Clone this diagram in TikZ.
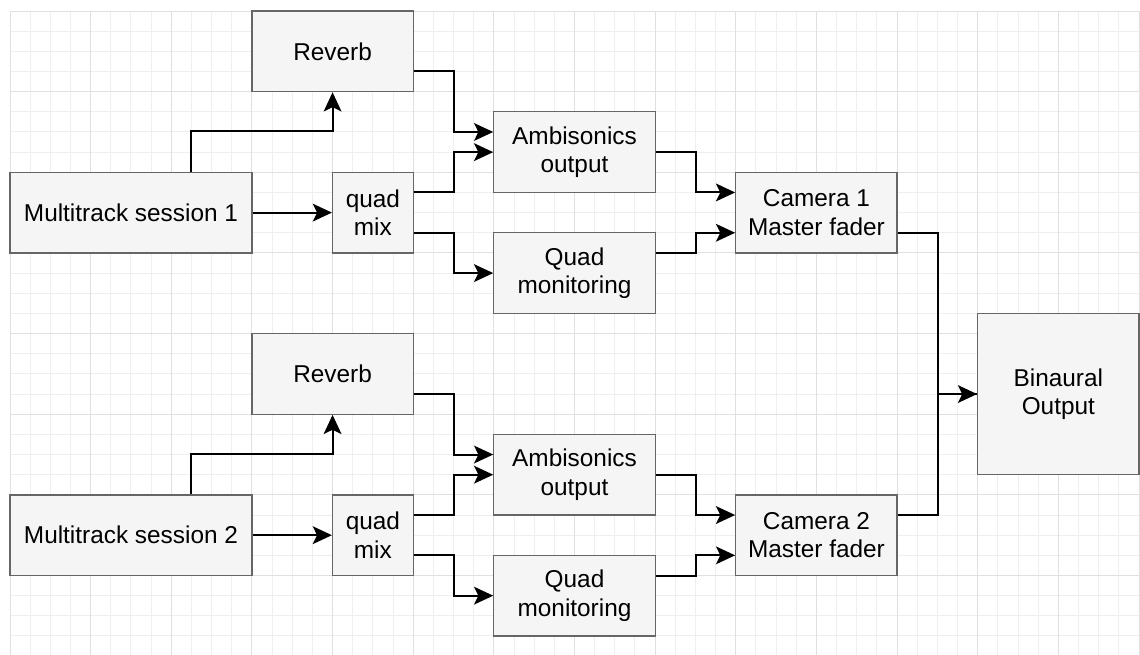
\documentclass[tikz,border=0pt]{standalone}
\usepackage{fontspec}
\setmainfont{Liberation Sans}
\usetikzlibrary{arrows.meta}
\definecolor{boxfill}{HTML}{F5F5F5}
\definecolor{boxline}{HTML}{666666}
\definecolor{gridminor}{HTML}{EFEFEF}
\definecolor{gridmajor}{HTML}{E0E0E0}
\tikzset{
  blockbox/.style={draw=boxline, fill=boxfill, line width=0.9pt, align=center, inner sep=0pt,
    font=\fontsize{17.2}{20}\selectfont, text=black},
  conn/.style={draw=black, line width=1.4pt, -{Stealth[length=13.5pt,width=12.5pt,inset=3pt]}},
  plainconn/.style={draw=black, line width=1.4pt},
  gminor/.style={draw=gridminor, line width=0.7pt},
  gmajor/.style={draw=gridmajor, line width=0.7pt},
}
\begin{document}
\begin{tikzpicture}[x=0.5cm, y=-0.5cm]
\useasboundingbox (-0.496,-0.546) rectangle (56.05,31.94);
% grid
\foreach \i in {0,...,56} \draw[gminor] (\i,0) -- (\i,31.94);
\foreach \j in {0,...,31} \draw[gminor] (0,\j) -- (56.05,\j);
\foreach \i in {0,4,...,56} \draw[gmajor] (\i,0) -- (\i,31.94);
\foreach \j in {0,4,...,28} \draw[gmajor] (0,\j) -- (56.05,\j);

% upper group
\node[blockbox, minimum width=6cm, minimum height=2cm] (ms1) at (6,10) {Multitrack session 1};
\node[blockbox, minimum width=4cm, minimum height=2cm] (rev1) at (16,2) {Reverb};
\node[blockbox, minimum width=2cm, minimum height=2cm] (qm1) at (18,10) {quad\\mix};
\node[blockbox, minimum width=4cm, minimum height=2cm] (amb1) at (28,7) {Ambisonics\\output};
\node[blockbox, minimum width=4cm, minimum height=2cm] (qmon1) at (28,13) {Quad\\monitoring};
\node[blockbox, minimum width=4cm, minimum height=2cm] (cam1) at (40,10) {Camera 1\\Master fader};

% lower group
\node[blockbox, minimum width=6cm, minimum height=2cm] (ms2) at (6,26) {Multitrack session 2};
\node[blockbox, minimum width=4cm, minimum height=2cm] (rev2) at (16,18) {Reverb};
\node[blockbox, minimum width=2cm, minimum height=2cm] (qm2) at (18,26) {quad\\mix};
\node[blockbox, minimum width=4cm, minimum height=2cm] (amb2) at (28,23) {Ambisonics\\output};
\node[blockbox, minimum width=4cm, minimum height=2cm] (qmon2) at (28,29) {Quad\\monitoring};
\node[blockbox, minimum width=4cm, minimum height=2cm] (cam2) at (40,26) {Camera 2\\Master fader};

% output
\node[blockbox, minimum width=4cm, minimum height=4cm] (bin) at (52,19) {Binaural\\Output};

% upper connectors
\draw[conn] ([xshift=1.5cm]ms1.north) -- ++(0,-2) -| (rev1.south);
\draw[conn] (ms1.east) -- (qm1.west);
\draw[conn] ([yshift=-0.5cm]rev1.east) -- ++(2,0) |- ([yshift=0.5cm]amb1.west);
\draw[conn] ([yshift=0.5cm]qm1.east) -- ++(2,0) |- (amb1.west);
\draw[conn] ([yshift=-0.5cm]qm1.east) -- ++(2,0) |- (qmon1.west);
\draw[conn] (amb1.east) -- ++(2,0) |- ([yshift=0.5cm]cam1.west);
\draw[conn] ([yshift=0.5cm]qmon1.east) -- ++(2,0) |- ([yshift=-0.5cm]cam1.west);

% lower connectors
\draw[conn] ([xshift=1.5cm]ms2.north) -- ++(0,-2) -| (rev2.south);
\draw[conn] (ms2.east) -- (qm2.west);
\draw[conn] ([yshift=-0.5cm]rev2.east) -- ++(2,0) |- ([yshift=0.5cm]amb2.west);
\draw[conn] ([yshift=0.5cm]qm2.east) -- ++(2,0) |- (amb2.west);
\draw[conn] ([yshift=-0.5cm]qm2.east) -- ++(2,0) |- (qmon2.west);
\draw[conn] (amb2.east) -- ++(2,0) |- ([yshift=0.5cm]cam2.west);
\draw[conn] ([yshift=0.5cm]qmon2.east) -- ++(2,0) |- ([yshift=-0.5cm]cam2.west);

% to binaural
\draw[plainconn] ([yshift=0.5cm]cam2.east) -- ++(2,0) |- (bin.west);
\draw[conn] ([yshift=-0.5cm]cam1.east) -- ++(2,0) |- (bin.west);
\end{tikzpicture}
\end{document}
